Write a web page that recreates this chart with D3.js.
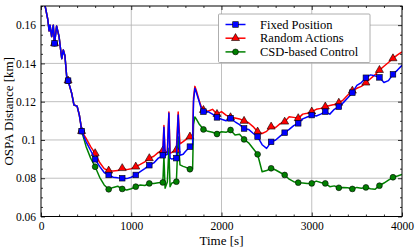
<!doctype html>
<html>
<head>
<meta charset="utf-8">
<style>
  body { margin: 0; background: #fff; }
  svg text { font-family: 'Liberation Serif', serif; fill: #000; }
  .grid line { stroke: #b0b0b0; stroke-width: 0.8; }
</style>
</head>
<body>
<svg width="415" height="249"></svg>
<script src="https://d3js.org/d3.v7.min.js"></script>
<script>

const serif = "'Liberation Serif', serif";

// time [s]
const time = [0, 50, 75, 90, 100, 118, 136, 150, 173, 200, 218, 230, 247, 265, 285, 300, 340, 365, 400, 425, 440, 450,
  500, 550, 600, 650, 700, 750, 800, 850, 900, 950, 1000, 1050, 1100, 1150, 1200, 1250, 1300, 1340, 1350,
  1362, 1375, 1400, 1417, 1430, 1450, 1500, 1520, 1540, 1575, 1600, 1650, 1680, 1690, 1705, 1720, 1750, 1775, 1800,
  1850, 1900, 1950, 2000, 2050, 2100, 2150, 2200, 2250, 2300, 2350, 2400, 2450, 2500, 2550, 2600, 2650, 2700,
  2750, 2800, 2850, 2900, 2950, 3000, 3050, 3100, 3150, 3200, 3250, 3300, 3350, 3400, 3450, 3500, 3550, 3600,
  3650, 3700, 3750, 3800, 3850, 3900, 3950, 4000];

const start = [0.178, 0.169, 0.163, 0.157, 0.160, 0.154, 0.160, 0.1505, 0.1595, 0.154, 0.147, 0.1425, 0.147, 0.144,
  0.133, 0.131, 0.1244, 0.1183, 0.1177, 0.113, 0.1085];

const fixedPos = start.concat([0.1046,
  0.099, 0.0945, 0.0899, 0.0862, 0.083, 0.0817, 0.0805, 0.0802, 0.0800, 0.0798, 0.0805, 0.0817, 0.0835, 0.0850, 0.0868, 0.0880, 0.0905, 0.0915, 0.092,
  0.1066, 0.092, 0.0925, 0.114, 0.0905, 0.090, 0.0905, 0.113, 0.092, 0.0925, 0.094, 0.0965, 0.0975, 0.120, 0.127, 0.125, 0.1205, 0.1165, 0.1148,
  0.1148, 0.1135, 0.1118, 0.1108, 0.1100, 0.1113, 0.1095, 0.108, 0.106, 0.1055, 0.1035, 0.1017, 0.0975, 0.0956, 0.099, 0.100, 0.102, 0.1038,
  0.1055, 0.1075, 0.1087, 0.1110, 0.1120, 0.1130, 0.1125, 0.1135, 0.1148, 0.1135, 0.1160, 0.1174, 0.1195, 0.122, 0.1247, 0.1285, 0.1300, 0.1325,
  0.1340, 0.1335, 0.1327, 0.1300, 0.1310, 0.1343, 0.1365, 0.139]);

const randomAct = start.concat([0.1046,
  0.1008, 0.0965, 0.093, 0.0882, 0.085, 0.0839, 0.0838, 0.0840, 0.0852, 0.0845, 0.0850, 0.0860, 0.0872, 0.0885, 0.0904, 0.0915, 0.0935, 0.0944, 0.0944,
  0.1075, 0.093, 0.094, 0.1146, 0.093, 0.0935, 0.0948, 0.1146, 0.098, 0.0991, 0.100, 0.1017, 0.1005, 0.122, 0.128, 0.126, 0.121, 0.1175, 0.1156,
  0.1150, 0.116, 0.1135, 0.1148, 0.113, 0.1118, 0.1115, 0.111, 0.1099, 0.109, 0.107, 0.1043, 0.1034, 0.1045, 0.1069, 0.1065, 0.1085, 0.1095,
  0.1121, 0.1118, 0.1113, 0.1135, 0.1140, 0.1148, 0.1160, 0.1165, 0.1174, 0.1180, 0.1185, 0.1194, 0.1210, 0.1235, 0.1257, 0.1270, 0.1280, 0.1299,
  0.1320, 0.1340, 0.1365, 0.1385, 0.1405, 0.1426, 0.1445, 0.146]);

const csdControl = start.concat([0.1046,
  0.0965, 0.0905, 0.086, 0.0805, 0.0765, 0.0742, 0.0752, 0.0758, 0.0744, 0.0738, 0.0745, 0.0756, 0.0765, 0.0762, 0.0773, 0.0772, 0.0776, 0.0778, 0.0778,
  0.0914, 0.0748, 0.078, 0.0957, 0.0756, 0.0775, 0.0782, 0.1017, 0.087, 0.0862, 0.0858, 0.0847, 0.0850, 0.108, 0.112, 0.111, 0.1085, 0.107, 0.1055,
  0.1045, 0.1040, 0.1031, 0.1043, 0.1040, 0.1052, 0.1026, 0.1030, 0.1003, 0.0985, 0.0955, 0.0925, 0.0834, 0.0840, 0.0852, 0.0843, 0.0830, 0.0817,
  0.0795, 0.0782, 0.0777, 0.0775, 0.0772, 0.0773, 0.0785, 0.0778, 0.0773, 0.0756, 0.0760, 0.0750, 0.0752, 0.0750, 0.0744, 0.0752, 0.0748, 0.0752,
  0.0745, 0.0742, 0.0761, 0.0775, 0.0790, 0.0805, 0.0812, 0.082]);

const seriesNames = ["Fixed Position", "Random Actions", "CSD-based Control"];
const seriesColors = ["#0000ff", "#ff0000", "#008000"];
const seriesMarkers = ["square", "triangle", "circle"];
const xTicks = [0, 1000, 2000, 3000, 4000];
const yTicks = [0.06, 0.08, 0.1, 0.12, 0.14, 0.16];

const svg = d3.select("svg");
const margin = { left: 41, right: 13, top: 6, bottom: 32.5 };
const width = 415, height = 249;

const x = d3.scaleLinear().domain([0, 4000]).range([margin.left, width - margin.right]);
const y = d3.scaleLinear().domain([0.06, 0.17]).range([height - margin.bottom, margin.top]);

svg.append("clipPath").attr("id", "clip")
  .append("rect")
    .attr("x", x(0)).attr("y", y(0.17))
    .attr("width", x(4000) - x(0)).attr("height", y(0.06) - y(0.17));

// grid
const grid = svg.append("g").attr("class", "grid");
grid.selectAll(".gx").data(xTicks.slice(1, -1)).enter().append("line")
  .attr("x1", d => x(d)).attr("x2", d => x(d)).attr("y1", y(0.06)).attr("y2", y(0.17));
grid.selectAll(".gy").data(yTicks.slice(1)).enter().append("line")
  .attr("y1", d => y(d)).attr("y2", d => y(d)).attr("x1", x(0)).attr("x2", x(4000));

// ticks inside, on all four sides
const xMinor = d3.range(0, 4001, 200).filter(d => d % 1000 !== 0);
const yMinor = d3.range(0.065, 0.1701, 0.005).filter(d => Math.abs(Math.round(d * 50) - d * 50) > 1e-6);

const axB = d3.axisBottom(x).tickValues(xTicks).tickSize(-4).tickPadding(5).tickFormat(d3.format("d"));
const axT = d3.axisTop(x).tickValues(xTicks).tickSize(-4).tickFormat("");
const axL = d3.axisLeft(y).tickValues(yTicks).tickSize(-4).tickPadding(5).tickFormat(d => d3.format("")(+d.toFixed(2)));
const axR = d3.axisRight(y).tickValues(yTicks).tickSize(-4).tickFormat("");

function minor(axis, vals) { return axis.tickValues(vals).tickSize(-2).tickFormat(""); }

const gB = svg.append("g").attr("transform", `translate(0,${y(0.06)})`).call(axB);
svg.append("g").attr("transform", `translate(0,${y(0.06)})`).call(minor(d3.axisBottom(x), xMinor));
svg.append("g").attr("transform", `translate(0,${y(0.17)})`).call(axT);
svg.append("g").attr("transform", `translate(0,${y(0.17)})`).call(minor(d3.axisTop(x), xMinor));
const gL = svg.append("g").attr("transform", `translate(${x(0)},0)`).call(axL);
svg.append("g").attr("transform", `translate(${x(0)},0)`).call(minor(d3.axisLeft(y), yMinor));
svg.append("g").attr("transform", `translate(${x(4000)},0)`).call(axR);
svg.append("g").attr("transform", `translate(${x(4000)},0)`).call(minor(d3.axisRight(y), yMinor));

svg.selectAll(".domain").remove();
svg.selectAll(".tick line").attr("stroke", "#000").attr("stroke-width", 0.8);
[gB, gL].forEach(g => g.attr("font-family", serif).selectAll("text")
  .attr("font-size", 11.5).style("font-family", serif));

// series
const series = [fixedPos, randomAct, csdControl];
const line = d3.line().x((d, i) => x(time[i])).y(d => y(d));
const plot = svg.append("g").attr("clip-path", "url(#clip)");

function marker(g, kind, color, cx, cy) {
  if (kind === "square") {
    g.append("rect").attr("x", cx - 2.8).attr("y", cy - 2.8).attr("width", 5.6).attr("height", 5.6)
      .attr("fill", color).attr("stroke", "#000").attr("stroke-width", 0.6);
  } else if (kind === "triangle") {
    const s = d3.symbol().type(d3.symbolTriangle).size(28);
    g.append("path").attr("d", s()).attr("transform", `translate(${cx},${cy})`)
      .attr("fill", color).attr("stroke", "#000").attr("stroke-width", 0.6);
  } else {
    g.append("circle").attr("cx", cx).attr("cy", cy).attr("r", 2.9)
      .attr("fill", color).attr("stroke", "#000").attr("stroke-width", 0.6);
  }
}

// draw order: green, red, blue
[2, 1, 0].forEach(k => {
  plot.append("path").datum(series[k])
    .attr("d", line).attr("fill", "none")
    .attr("stroke", seriesColors[k]).attr("stroke-width", 1.5).attr("stroke-linejoin", "round");
  series[k].forEach((v, i) => {
    if (time[i] > 0 && time[i] % 150 === 0) marker(plot, seriesMarkers[k], seriesColors[k], x(time[i]), y(v));
  });
});

// frame
svg.append("rect").attr("x", x(0)).attr("y", y(0.17))
  .attr("width", x(4000) - x(0)).attr("height", y(0.06) - y(0.17))
  .attr("fill", "none").attr("stroke", "#000").attr("stroke-width", 1);

// axis labels
svg.append("text").attr("x", (x(0) + x(4000)) / 2).attr("y", 245)
  .attr("text-anchor", "middle").attr("font-size", 13).style("font-family", serif).text("Time [s]");
svg.append("text").attr("transform", `translate(13,${(y(0.06) + y(0.17)) / 2}) rotate(-90)`)
  .attr("text-anchor", "middle").attr("font-size", 13).style("font-family", serif).text("OSPA Distance [km]");

// legend
const leg = svg.append("g").attr("transform", "translate(218.5,14)");
leg.append("rect").attr("width", 151.5).attr("height", 48.5)
  .attr("fill", "#fff").attr("stroke", "#999").attr("stroke-width", 0.8).attr("rx", 1);
seriesNames.forEach((name, k) => {
  const ly = 10.5 + k * 13.7;
  leg.append("line").attr("x1", 7).attr("x2", 27).attr("y1", ly).attr("y2", ly)
    .attr("stroke", seriesColors[k]).attr("stroke-width", 1.5);
  marker(leg, seriesMarkers[k], seriesColors[k], 17, ly);
  leg.append("text").attr("x", 41.5).attr("y", ly + 4).attr("font-size", 12.5)
    .style("font-family", serif).text(name);
});

</script>
</body>
</html>
